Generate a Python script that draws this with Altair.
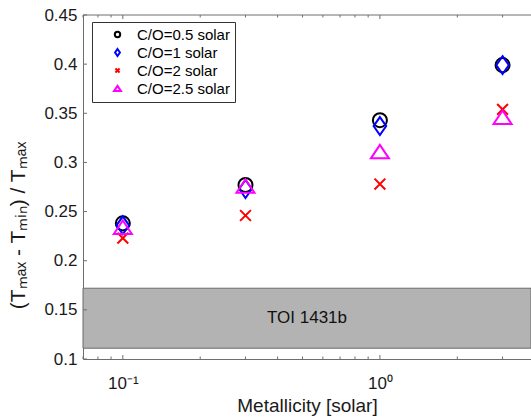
import altair as alt
import pandas as pd

# ---- data ----
metallicity = [0.1, 0.3, 1.0, 3.0]
series_names = ["C/O=0.5 solar", "C/O=1 solar", "C/O=2 solar", "C/O=2.5 solar"]
co_05 = [0.238, 0.277, 0.343, 0.399]
co_1 = [0.236, 0.273, 0.337, 0.399]
co_2 = [0.223, 0.246, 0.278, 0.354]
co_25 = [0.234, 0.276, 0.311, 0.346]

band_lo = 0.111
band_hi = 0.172
band_label = "TOI 1431b"

y_ticks = [0.1, 0.15, 0.2, 0.25, 0.3, 0.35, 0.4, 0.45]
x_major = [0.1, 1.0]
x_major_labels = ["10⁻¹", "10⁰"]
x_minor = [0.07, 0.08, 0.09, 0.2, 0.3, 0.4, 0.5, 0.6, 0.7, 0.8, 0.9, 2.0, 3.0]

colors = ["#000000", "#0000ff", "#ff0000", "#ff00ff"]
shapes = [
    "M0.78,0A0.78,0.78,0,1,1,-0.78,0A0.78,0.78,0,1,1,0.78,0Z",
    "M0,-1L0.7,0L0,1L-0.7,0Z",
    "M-0.6,-0.6L0.6,0.6M-0.6,0.6L0.6,-0.6",
    "M0,-0.75L1,0.75L-1,0.75Z",
]

# ---- layout ----
W, H = 448, 344
FONT = "Liberation Sans"
AX = "#6e6e6e"

rows = []
for name, vals in zip(series_names, [co_05, co_1, co_2, co_25]):
    for z, v in zip(metallicity, vals):
        rows.append({"Z": z, "ratio": v, "series": name})
df = pd.DataFrame(rows)

xscale = alt.Scale(type="log", domain=[0.07, 3.87], nice=False)
yscale = alt.Scale(domain=[0.1, 0.45], nice=False, zero=False)

label_expr = " : ".join(
    [f"datum.value == {v} ? '{l}'" for v, l in zip(x_major, x_major_labels)] + ["''"]
)

xaxis = alt.Axis(values=x_major, labelExpr=label_expr, title="Metallicity [solar]",
                 ticks=False, tickSize=0, labelPadding=16, titlePadding=5,
                 labelFontSize=17, titleFontSize=19, grid=False)
yaxis = alt.Axis(values=y_ticks, format="~g", title="(Tₘₐₓ - Tₘᵢₙ) / Tₘₐₓ",
                 ticks=False, tickSize=0, labelPadding=6, titlePadding=15,
                 labelFontSize=17, titleFontSize=21, titleY=210, grid=False)

band_df = pd.DataFrame({"lo": [band_lo], "hi": [band_hi],
                        "mid": [(band_lo + band_hi) / 2], "label": [band_label]})

band = alt.Chart(band_df).mark_rect(fill="#b3b3b3", stroke="#6b6b6b", strokeWidth=1).encode(
    x=alt.value(0), x2=alt.value(W),
    y=alt.Y("lo:Q", scale=yscale, axis=yaxis), y2="hi:Q",
)
band_text = alt.Chart(band_df).mark_text(font=FONT, fontSize=17, color="#111111").encode(
    x=alt.value(W / 2), y=alt.Y("mid:Q", scale=yscale, axis=yaxis), text="label:N"
)

points = alt.Chart(df).mark_point(filled=False, strokeWidth=2, opacity=1, size=324).encode(
    x=alt.X("Z:Q", scale=xscale, axis=xaxis),
    y=alt.Y("ratio:Q", scale=yscale, axis=yaxis),
    color=alt.Color("series:N", scale=alt.Scale(domain=series_names, range=colors),
                    legend=alt.Legend(title=None, orient="none", legendX=9, legendY=7,
                                      strokeColor="#333333", fillColor="white", padding=5,
                                      symbolOffset=13, labelOffset=12, rowPadding=2,
                                      labelFont=FONT, labelFontSize=15, labelColor="#000000",
                                      symbolSize=48, symbolStrokeWidth=2)),
    shape=alt.Shape("series:N", scale=alt.Scale(domain=series_names, range=shapes)),
    order=alt.Order("idx:Q"),
).transform_calculate(idx="indexof(" + str(series_names) + ", datum.series)")

def tick_layer(vals, length, top):
    d = pd.DataFrame({"t": vals})
    if top:
        y0, y1 = 0, length
    else:
        y0, y1 = H, H - length
    return alt.Chart(d).mark_rule(color=AX, strokeWidth=1).encode(
        x=alt.X("t:Q", scale=xscale, axis=xaxis), y=alt.value(y0), y2=alt.value(y1)
    )

ytick_layer = alt.Chart(pd.DataFrame({"t": y_ticks})).mark_rule(color=AX, strokeWidth=1).encode(
    y=alt.Y("t:Q", scale=yscale, axis=yaxis), x=alt.value(0), x2=alt.value(4)
)

top_line = alt.Chart(pd.DataFrame({"t": [0]})).mark_rule(color=AX, strokeWidth=1).encode(
    x=alt.value(0), x2=alt.value(W), y=alt.value(0)
)

chart = alt.layer(
    band, band_text,
    tick_layer(x_major, 4, False), tick_layer(x_minor, 2.5, False),
    tick_layer(x_major, 4, True), tick_layer(x_minor, 2.5, True),
    ytick_layer, top_line, points,
).properties(
    width=W, height=H,
    autosize=alt.AutoSizeParams(type="none"),
    padding={"left": 83, "top": 15, "right": 0, "bottom": 61},
).configure_view(stroke=None).configure_axis(
    domainColor=AX, domainWidth=1, labelColor="#1a1a1a", titleColor="#1a1a1a",
    labelFont=FONT, titleFont=FONT, titleFontWeight="normal",
)

chart.save("out.html", embed_options={"renderer": "svg", "actions": False})
